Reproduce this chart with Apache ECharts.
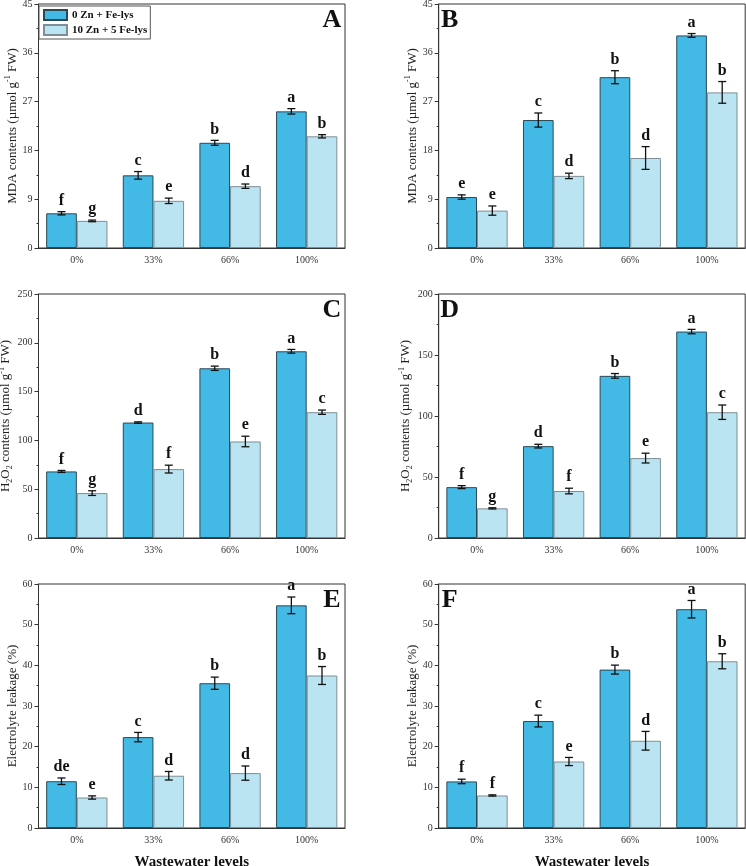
<!DOCTYPE html>
<html>
<head>
<meta charset="utf-8">
<script src="https://cdn.jsdelivr.net/npm/echarts@6/dist/echarts.min.js"></script>
<style>
html,body{margin:0;padding:0;background:#fff;}
#chart{width:746px;height:866px;}
</style>
</head>
<body>
<div id="chart"></div>
<script>
// ---------------- data ----------------
const categories = ['0%', '33%', '66%', '100%'];
const seriesNames = ['0 Zn + Fe-lys', '10 Zn + 5 Fe-lys'];

// Panel A: MDA
const mdaA_zn0 = [6.4, 13.4, 19.4, 25.2];
const mdaA_zn0_err = [0.3, 0.7, 0.45, 0.5];
const mdaA_zn0_sig = ['f', 'c', 'b', 'a'];
const mdaA_zn10 = [5.0, 8.7, 11.4, 20.6];
const mdaA_zn10_err = [0.15, 0.5, 0.4, 0.3];
const mdaA_zn10_sig = ['g', 'e', 'd', 'b'];

// Panel B: MDA
const mdaB_zn0 = [9.4, 23.6, 31.5, 39.2];
const mdaB_zn0_err = [0.4, 1.3, 1.2, 0.35];
const mdaB_zn0_sig = ['e', 'c', 'b', 'a'];
const mdaB_zn10 = [6.9, 13.3, 16.6, 28.7];
const mdaB_zn10_err = [0.85, 0.5, 2.1, 2.0];
const mdaB_zn10_sig = ['e', 'd', 'd', 'b'];

// Panel C: H2O2
const h2o2C_zn0 = [68.2, 118.3, 173.9, 191.3];
const h2o2C_zn0_err = [1.0, 0.7, 2.2, 1.9];
const h2o2C_zn0_sig = ['f', 'd', 'b', 'a'];
const h2o2C_zn10 = [46.0, 70.6, 98.9, 128.9];
const h2o2C_zn10_err = [2.4, 4.0, 5.4, 2.2];
const h2o2C_zn10_sig = ['g', 'f', 'e', 'c'];

// Panel D: H2O2
const h2o2D_zn0 = [41.7, 75.3, 132.9, 169.2];
const h2o2D_zn0_err = [1.2, 1.5, 1.9, 1.8];
const h2o2D_zn0_sig = ['f', 'd', 'b', 'a'];
const h2o2D_zn10 = [24.3, 38.5, 65.5, 103.1];
const h2o2D_zn10_err = [0.5, 2.3, 4.0, 5.9];
const h2o2D_zn10_sig = ['g', 'f', 'e', 'c'];

// Panel E: Electrolyte leakage
const elE_zn0 = [11.5, 22.35, 35.6, 54.75];
const elE_zn0_err = [0.8, 1.15, 1.5, 2.05];
const elE_zn0_sig = ['de', 'c', 'b', 'a'];
const elE_zn10 = [7.5, 12.85, 13.5, 37.5];
const elE_zn10_err = [0.4, 1.05, 1.75, 2.2];
const elE_zn10_sig = ['e', 'd', 'd', 'b'];

// Panel F: Electrolyte leakage
const elF_zn0 = [11.45, 26.3, 38.95, 53.8];
const elF_zn0_err = [0.55, 1.45, 1.1, 2.15];
const elF_zn0_sig = ['f', 'c', 'b', 'a'];
const elF_zn10 = [8.0, 16.35, 21.45, 41.0];
const elF_zn10_err = [0.15, 1.0, 2.3, 1.85];
const elF_zn10_sig = ['f', 'e', 'd', 'b'];

// axis scales per panel (A..F)
const panelLetters = ['A', 'B', 'C', 'D', 'E', 'F'];
const yMax = [45, 45, 250, 200, 60, 60];
const yStep = [9, 9, 50, 50, 10, 10];
const mdaTitle = '{t|MDA contents (µmol g}{sup|-1}{t| FW)}';
const h2o2Title = '{t|H}{sub|2}{t|O}{sub|2}{t| contents (µmol g}{sup|-1}{t| FW)}';
const elTitle = '{t|Electrolyte leakage (%)}';
const yTitles = [mdaTitle, mdaTitle, h2o2Title, h2o2Title, elTitle, elTitle];
const xTitle = 'Wastewater levels';

const panels = [
  [mdaA_zn0, mdaA_zn0_err, mdaA_zn0_sig, mdaA_zn10, mdaA_zn10_err, mdaA_zn10_sig],
  [mdaB_zn0, mdaB_zn0_err, mdaB_zn0_sig, mdaB_zn10, mdaB_zn10_err, mdaB_zn10_sig],
  [h2o2C_zn0, h2o2C_zn0_err, h2o2C_zn0_sig, h2o2C_zn10, h2o2C_zn10_err, h2o2C_zn10_sig],
  [h2o2D_zn0, h2o2D_zn0_err, h2o2D_zn0_sig, h2o2D_zn10, h2o2D_zn10_err, h2o2D_zn10_sig],
  [elE_zn0, elE_zn0_err, elE_zn0_sig, elE_zn10, elE_zn10_err, elE_zn10_sig],
  [elF_zn0, elF_zn0_err, elF_zn0_sig, elF_zn10, elF_zn10_err, elF_zn10_sig]
];

// ---------------- style / layout ----------------
const FONT = '"Liberation Serif", "Times New Roman", serif';
const colDark = '#43B9E5';
const colLight = '#BBE4F2';
const borderDark = '#2c4855';
const borderLight = '#7f8d94';
const axisColor = '#333';
const gridLefts = [38.5, 438.7];
const gridTops = [4, 294, 584];
const gridW = 306.5, gridH = 244;

const grids = [], xAxes = [], yAxes = [], series = [], graphics = [];

panels.forEach((p, k) => {
  const col = k % 2, row = Math.floor(k / 2);
  const left = gridLefts[col], top = gridTops[row];
  grids.push({ left: left, top: top, width: gridW, height: gridH, show: true,
    outerBoundsMode: 'none', containLabel: false,
    borderColor: axisColor, borderWidth: 1, backgroundColor: 'transparent' });

  // main category axis (ticks at category centers)
  xAxes.push({
    type: 'category', gridIndex: k, data: categories, position: 'bottom',
    axisLine: { lineStyle: { color: axisColor, width: 1 } },
    axisTick: { alignWithLabel: true, length: 4, lineStyle: { color: axisColor } },
    axisLabel: { fontFamily: FONT, fontSize: 10, color: '#333', margin: 7 },
    name: row === 2 ? xTitle : '', nameLocation: 'middle', nameGap: 27,
    nameTextStyle: { fontFamily: FONT, fontSize: 15, fontWeight: 'bold', color: '#111' }
  });
  // secondary axis only for small ticks at category boundaries
  xAxes.push({
    type: 'category', gridIndex: k, data: categories, position: 'bottom', offset: 0,
    axisLine: { show: false },
    axisTick: { alignWithLabel: false, length: 2, lineStyle: { color: axisColor } },
    axisLabel: { show: false }
  });

  yAxes.push({
    type: 'value', gridIndex: k, min: 0, max: yMax[k], interval: yStep[k],
    axisLine: { show: true, lineStyle: { color: axisColor, width: 1 } },
    axisTick: { show: true, length: 4, lineStyle: { color: axisColor } },
    minorTick: { show: true, splitNumber: 2, length: 2, lineStyle: { color: axisColor } },
    splitLine: { show: false },
    axisLabel: { fontFamily: FONT, fontSize: 10, color: '#333', margin: 6 },
    name: yTitles[k], nameLocation: 'middle', nameGap: 17,
    nameTextStyle: {
      fontFamily: FONT, color: '#222',
      rich: {
        t: { fontFamily: FONT, fontSize: 13, color: '#222', lineHeight: 16, verticalAlign: 'middle' },
        sup: { fontFamily: FONT, fontSize: 8, color: '#222', lineHeight: 16, verticalAlign: 'top' },
        sub: { fontFamily: FONT, fontSize: 8, color: '#222', lineHeight: 16, verticalAlign: 'bottom' }
      }
    }
  });

  const xi = k * 2;
  const groups = [
    { vals: p[0], errs: p[1], sigs: p[2], name: seriesNames[0], color: colDark, border: borderDark, side: -1 },
    { vals: p[3], errs: p[4], sigs: p[5], name: seriesNames[1], color: colLight, border: borderLight, side: 1 }
  ];
  groups.forEach(g => {
    series.push({
      type: 'bar', name: g.name, xAxisIndex: xi, yAxisIndex: k, data: g.vals,
      barGap: '0%', barCategoryGap: '20%',
      itemStyle: { color: g.color, borderColor: g.border, borderWidth: 1 },
      emphasis: { disabled: true }, silent: true
    });
  });
  groups.forEach(g => {
    series.push({
      type: 'custom', xAxisIndex: xi, yAxisIndex: k, z: 10, clip: false, silent: true,
      data: g.vals.map((v, i) => [i, v, g.errs[i]]),
      encode: { x: 0, y: 1 },
      renderItem: function (params, api) {
        const i = api.value(0), v = api.value(1), e = api.value(2);
        const c = api.coord([i, v]);
        const band = api.size([1, 0])[0];
        const x = c[0] + g.side * band * 0.2;
        const yTop = api.coord([i, v + e])[1];
        const yBot = api.coord([i, v - e])[1];
        const cap = 4;
        const ls = { stroke: '#111', lineWidth: 1.3 };
        return {
          type: 'group',
          children: [
            { type: 'line', shape: { x1: x, y1: yTop, x2: x, y2: yBot }, style: ls },
            { type: 'line', shape: { x1: x - cap, y1: yTop, x2: x + cap, y2: yTop }, style: ls },
            { type: 'line', shape: { x1: x - cap, y1: yBot, x2: x + cap, y2: yBot }, style: ls },
            { type: 'text', style: { text: g.sigs[params.dataIndex], x: x, y: yTop - 3,
                textAlign: 'center', textVerticalAlign: 'bottom',
                font: 'bold 16px ' + FONT, fill: '#111' } }
          ]
        };
      }
    });
  });

  // panel letter
  const lx = col === 0 ? left + gridW - 13 : left + 11;
  graphics.push({
    type: 'text', x: lx, y: top + 16, z: 20,
    style: { text: panelLetters[k], x: 0, y: 0, textAlign: 'center', textVerticalAlign: 'middle',
      font: 'bold 26px ' + FONT, fill: '#111' }
  });
});

const chart = echarts.init(document.getElementById('chart'), null, { renderer: 'canvas' });
chart.setOption({
  animation: false,
  backgroundColor: '#fff',
  grid: grids,
  xAxis: xAxes,
  yAxis: yAxes,
  legend: {
    data: seriesNames, left: 39, top: 6, orient: 'vertical',
    borderColor: '#555', borderWidth: 1, padding: [3, 3, 3, 4], itemGap: 3,
    itemWidth: 23, itemHeight: 10, icon: 'rect', selectedMode: false,
    textStyle: { fontFamily: FONT, fontSize: 11, fontWeight: 'bold', color: '#111' },
    backgroundColor: '#fff'
  },
  graphic: graphics,
  series: series
});
</script>
</body>
</html>
